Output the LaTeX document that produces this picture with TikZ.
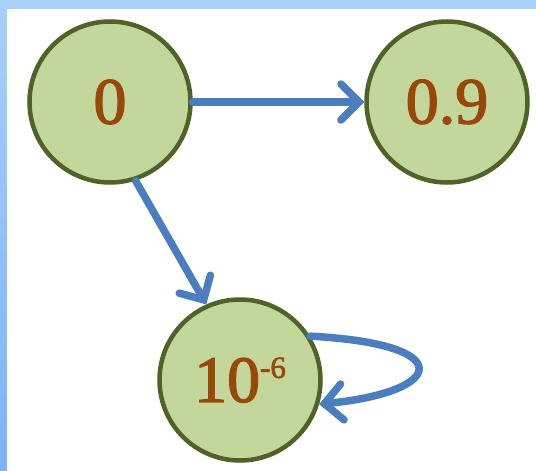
\documentclass[tikz,border=0pt]{standalone}
\usepackage{fontspec}
\setmainfont{Liberation Serif}
\newfontfamily\statefont{Liberation Serif}[FakeBold=2]
\usetikzlibrary{arrows.meta}
\definecolor{bandtop}{HTML}{A9CFFA}
\definecolor{bandbot}{HTML}{7DB3F5}
\definecolor{statefill}{HTML}{C3D69B}
\definecolor{stateline}{HTML}{4F6228}
\definecolor{statetext}{HTML}{984807}
\definecolor{edgecol}{HTML}{4A7EBF}
\newcommand{\supsmall}[1]{\raisebox{24pt}{\fontsize{31}{34}\selectfont #1}}
\tikzset{
  state/.style={circle, draw=stateline, fill=statefill, line width=4.5pt,
    minimum size=161pt, inner sep=0pt, text=statetext,
    font=\statefont\fontsize{66}{72}\selectfont},
  edge/.style={draw=edgecol, line width=7.5pt, line cap=round,
    -{Straight Barb[length=18pt,width=36pt,line cap=round]}}
}
\begin{document}
\begin{tikzpicture}[x=1pt,y=-1pt]
\shade[top color=bandtop, bottom color=bandbot] (0,0) rectangle (536,471);
\fill[white] (7,9) rectangle (536,471);
\useasboundingbox (0,0) rectangle (536,471);
\node[state] (a) at (110,102) {0};
\node[state] (b) at (447,102) {0.9};
\node[state] (c) at (240,380) {10\supsmall{-6}};
\draw[edge] (a.east) -- (b.west);
\draw[edge] (a.-72) -- (c.114);
\draw[edge] (c.32) .. controls (460,344) and (445,392) .. (c.-17);
\end{tikzpicture}
\end{document}
